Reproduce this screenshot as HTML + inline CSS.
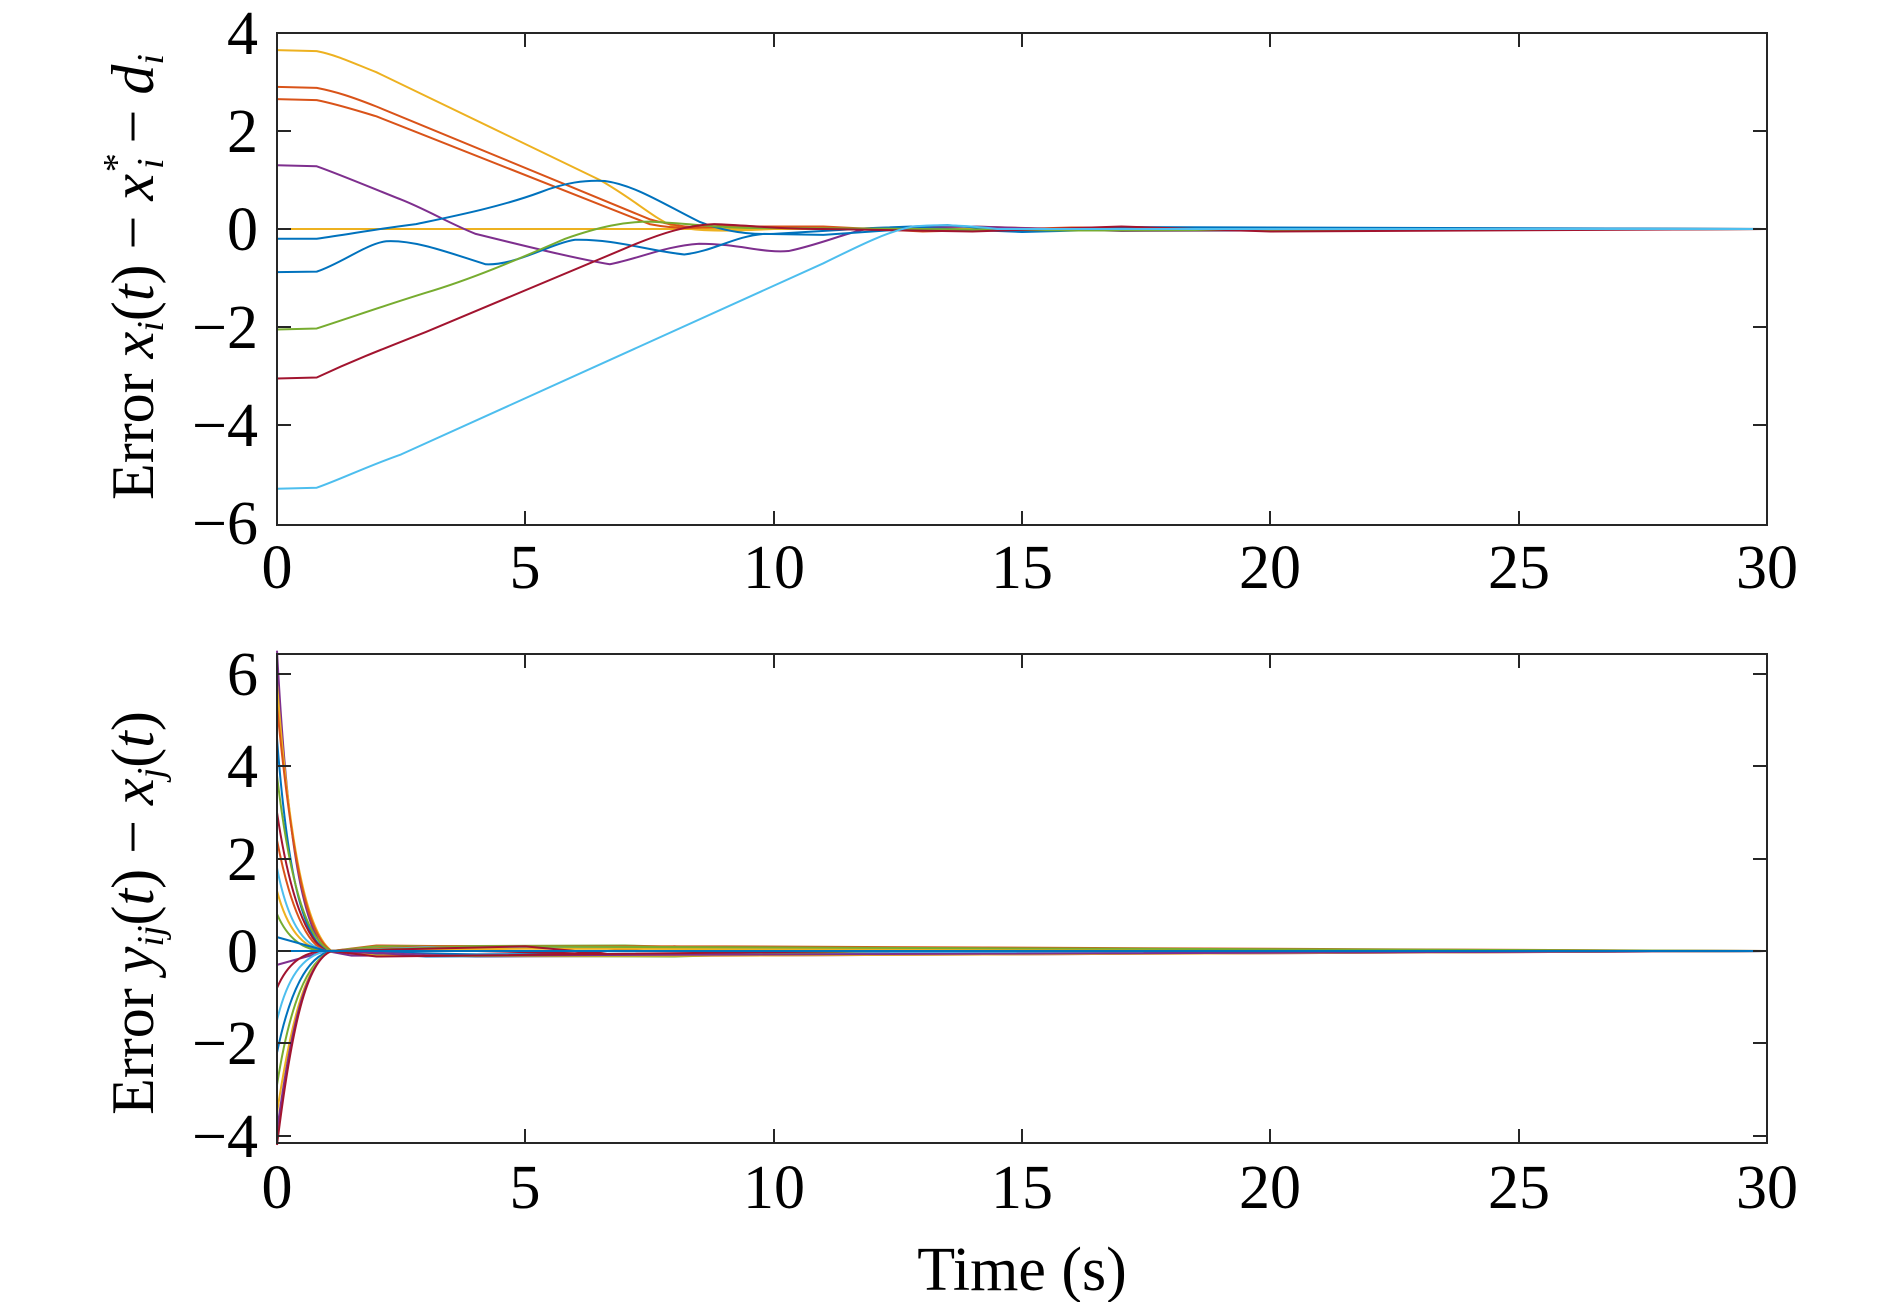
<!DOCTYPE html>
<html><head><meta charset="utf-8"><style>
html,body{margin:0;padding:0;background:#fff;}
svg{display:block;font-family:"Liberation Serif",serif;}
.p{fill:none;stroke-width:2;vector-effect:non-scaling-stroke;stroke-linejoin:round}
</style></head><body>
<svg width="1890" height="1302" viewBox="0 0 1890 1302" xmlns="http://www.w3.org/2000/svg">
<!-- TOP PLOT -->
<g transform="translate(277,229) scale(49.67,-49)">
<path class="p" stroke="#EDB120" d="M0,0 L30,0"/>
<path class="p" stroke="#EDB120" d="M0,3.65 L0.8,3.63 C1.2,3.55 1.5,3.4 2,3.2 L6.5,1.0 C7.2,0.6 7.6,0.2 8,0.05 C8.5,-0.05 9,-0.05 10,0 L30,0"/>
<path class="p" stroke="#D95319" d="M0,2.9 L0.8,2.88 C1.2,2.8 1.5,2.7 2,2.5 L7.5,0.2 C8,0.05 8.5,0 9,0.05 L11,0.05 L13,-0.05 L16,0.03 L30,0"/>
<path class="p" stroke="#D95319" d="M0,2.65 L0.8,2.63 C1.2,2.55 1.5,2.45 2,2.3 L7.5,0.1 C8,0 8.5,0 9,0.08 L11,0 L14,0.05 L17,-0.03 L30,0"/>
<path class="p" stroke="#7E2F8E" d="M0,1.3 L0.8,1.28 C1.3,1.1 2,0.8 2.5,0.6 C3,0.4 3.5,0.1 4,-0.1 C5,-0.35 6,-0.6 6.7,-0.72 C7.3,-0.6 7.8,-0.35 8.5,-0.3 C9.3,-0.3 9.8,-0.5 10.3,-0.45 C11,-0.3 11.5,-0.05 12,0.02 L14,0.05 L17,-0.04 L30,0"/>
<path class="p" stroke="#0072BD" d="M0,-0.2 L0.8,-0.2 C1.5,-0.1 2,0 2.8,0.1 C3.5,0.25 4.5,0.45 5.3,0.75 C5.8,0.95 6.2,1.0 6.6,0.98 C7.2,0.9 7.8,0.5 8.5,0.15 C9,-0.05 9.5,-0.12 10,-0.1 L12,0.02 L13.5,0.08 L15,-0.05 L17,0.04 L30,0"/>
<path class="p" stroke="#0072BD" d="M0,-0.88 L0.8,-0.87 C1.3,-0.7 1.8,-0.3 2.2,-0.25 C2.8,-0.22 3.5,-0.5 4.2,-0.72 C4.8,-0.75 5.5,-0.3 6,-0.22 C6.8,-0.2 7.5,-0.45 8.2,-0.52 C8.8,-0.45 9.2,-0.15 9.8,-0.1 L11,-0.12 L13,0.02 L15,-0.06 L18,0.02 L30,0"/>
<path class="p" stroke="#77AC30" d="M0,-2.05 L0.8,-2.03 C1.5,-1.8 2.2,-1.55 3,-1.3 C4,-1 5,-0.55 5.8,-0.2 C6.5,0.05 7,0.15 7.5,0.15 C8.5,0.1 9,0 10,0.02 L13,0 L16,-0.03 L30,0"/>
<path class="p" stroke="#A2142F" d="M0,-3.05 L0.8,-3.03 C1.5,-2.7 2,-2.5 3,-2.1 L7,-0.4 C7.8,-0.05 8.3,0.08 8.8,0.1 C9.5,0.08 10,0 11,0 L14,-0.05 L17,0.05 L20,-0.05 L30,0"/>
<path class="p" stroke="#4DBEEE" d="M0,-5.3 L0.8,-5.28 C1.3,-5.1 1.8,-4.85 2.5,-4.6 L11,-0.7 C11.8,-0.3 12.3,-0.05 12.8,0.05 C13.3,0.1 13.8,0.08 14.5,0 L30,0"/>
</g>
<g stroke="#262626" stroke-width="2" fill="none">
<rect x="277" y="33" width="1490" height="492"/>
<path d="M277,33h14M277,131h14M277,229h14M277,327h14M277,425h14M1767,33h-14M1767,131h-14M1767,229h-14M1767,327h-14M1767,425h-14
M525,525v-14M774,525v-14M1022,525v-14M1270,525v-14M1519,525v-14M525,33v14M774,33v14M1022,33v14M1270,33v14M1519,33v14"/>
</g>
<g font-size="62" fill="#000" text-anchor="end">
<text x="258" y="54">4</text><text x="258" y="152">2</text><text x="258" y="250">0</text>
<text x="258" y="348">−2</text><text x="258" y="446">−4</text><text x="258" y="544">−6</text>
</g>
<g font-size="62" fill="#000" text-anchor="middle">
<text x="277" y="588">0</text><text x="525" y="588">5</text><text x="774" y="588">10</text><text x="1022" y="588">15</text><text x="1270" y="588">20</text><text x="1519" y="588">25</text><text x="1767" y="588">30</text>
</g>
<text transform="translate(153,277) rotate(-90)" font-size="60" text-anchor="middle">Error <tspan font-style="italic">x</tspan><tspan font-style="italic" font-size="38" dy="10">i</tspan><tspan dy="-10">(</tspan><tspan font-style="italic">t</tspan>) − <tspan font-style="italic">x</tspan><tspan font-style="italic" font-size="38" dy="-24">*</tspan><tspan font-style="italic" font-size="38" dx="-14" dy="34">i</tspan><tspan dy="-10"> − </tspan><tspan font-style="italic">d</tspan><tspan font-style="italic" font-size="38" dy="10">i</tspan></text>

<!-- BOTTOM PLOT -->
<g transform="translate(0,-4)">
<g transform="translate(277,955) scale(49.67,-46.2)">
<path class="p" stroke="#7E2F8E" d="M0,6.5 C0.2,2.5 0.5,0.5 1,0 L1.5,-0.1 L6,-0.1 L12,0 L30,0"/>
<path class="p" stroke="#EDB120" d="M0,5.8 C0.25,2.2 0.6,0.4 1.1,0 L2,0.1 L8,0.1 L13,0 L30,0"/>
<path class="p" stroke="#D95319" d="M0,5.3 C0.3,2 0.6,0.3 1.1,0 L2,0.12 L9,0.05 L30,0"/>
<path class="p" stroke="#0072BD" d="M0,4.6 C0.2,1.8 0.5,0.3 1,0 L2,-0.08 L10,-0.05 L30,0"/>
<path class="p" stroke="#77AC30" d="M0,3.8 C0.25,1.5 0.6,0.2 1.1,0 L2,0.1 L7,0.12 L11,0 L30,0"/>
<path class="p" stroke="#A2142F" d="M0,3 C0.25,1.2 0.6,0.2 1,0 L2,0.05 L6,-0.05 L8,0.1 L10,-0.05 L30,0"/>
<path class="p" stroke="#D95319" d="M0,2.4 C0.25,1 0.6,0.1 1,0 L3,0.1 L9,0.1 L30,0"/>
<path class="p" stroke="#4DBEEE" d="M0,1.8 C0.2,0.7 0.5,0.1 1,0 L3,0.08 L10,0.05 L30,0"/>
<path class="p" stroke="#EDB120" d="M0,1.3 C0.2,0.5 0.5,0.05 1,0 L5,0.05 L30,0"/>
<path class="p" stroke="#77AC30" d="M0,0.8 C0.2,0.3 0.5,0 1,0 L4,0.1 L30,0"/>
<path class="p" stroke="#0072BD" d="M0,0.3 L1,0 L5,-0.1 L30,0"/>
<path class="p" stroke="#7E2F8E" d="M0,-0.3 L1,0 L4,-0.12 L9,-0.1 L30,0"/>
<path class="p" stroke="#A2142F" d="M0,-0.8 C0.2,-0.3 0.5,0 1,0 L5,0.1 L7,-0.1 L30,0"/>
<path class="p" stroke="#4DBEEE" d="M0,-1.5 C0.2,-0.6 0.5,-0.1 1,0 L3,-0.1 L11,-0.05 L30,0"/>
<path class="p" stroke="#0072BD" d="M0,-2.2 C0.25,-0.9 0.6,-0.1 1.1,0 L3,-0.12 L10,-0.08 L30,0"/>
<path class="p" stroke="#77AC30" d="M0,-2.9 C0.25,-1.2 0.6,-0.2 1.1,0 L2,-0.1 L8,-0.12 L12,0 L30,0"/>
<path class="p" stroke="#EDB120" d="M0,-3.5 C0.3,-1.4 0.6,-0.2 1.1,0 L2,-0.1 L9,-0.1 L30,0"/>
<path class="p" stroke="#7E2F8E" d="M0,-3.9 C0.3,-1.5 0.6,-0.2 1.1,0 L3,-0.1 L30,0"/>
<path class="p" stroke="#A2142F" d="M0,-4.2 C0.3,-1.6 0.6,-0.2 1.1,0 L2,-0.12 L12,0 L30,0"/>
<path class="p" stroke="#0072BD" d="M0,0 L30,0"/>
</g>
<g stroke="#262626" stroke-width="2" fill="none">
<rect x="277" y="658" width="1490" height="489"/>
<path d="M277,678h14M277,770h14M277,863h14M277,955h14M277,1047h14M277,1140h14M1767,678h-14M1767,770h-14M1767,863h-14M1767,955h-14M1767,1047h-14M1767,1140h-14
M525,1147v-14M774,1147v-14M1022,1147v-14M1270,1147v-14M1519,1147v-14M525,658v14M774,658v14M1022,658v14M1270,658v14M1519,658v14"/>
</g>
<g font-size="62" fill="#000" text-anchor="end">
<text x="258" y="699">6</text><text x="258" y="791">4</text><text x="258" y="884">2</text><text x="258" y="976">0</text>
<text x="258" y="1068">−2</text><text x="258" y="1161">−4</text>
</g>
<g font-size="62" fill="#000" text-anchor="middle">
<text x="277" y="1212">0</text><text x="525" y="1212">5</text><text x="774" y="1212">10</text><text x="1022" y="1212">15</text><text x="1270" y="1212">20</text><text x="1519" y="1212">25</text><text x="1767" y="1212">30</text>
</g>
<text transform="translate(153,917) rotate(-90)" font-size="60" text-anchor="middle">Error <tspan font-style="italic">y</tspan><tspan font-style="italic" font-size="38" dy="10">ij</tspan><tspan dy="-10">(</tspan><tspan font-style="italic">t</tspan>) − <tspan font-style="italic">x</tspan><tspan font-style="italic" font-size="38" dy="10">j</tspan><tspan dy="-10">(</tspan><tspan font-style="italic">t</tspan>)</text>
</g>
<text x="1022" y="1290" font-size="62" text-anchor="middle">Time (s)</text>
</svg>
</body></html>
